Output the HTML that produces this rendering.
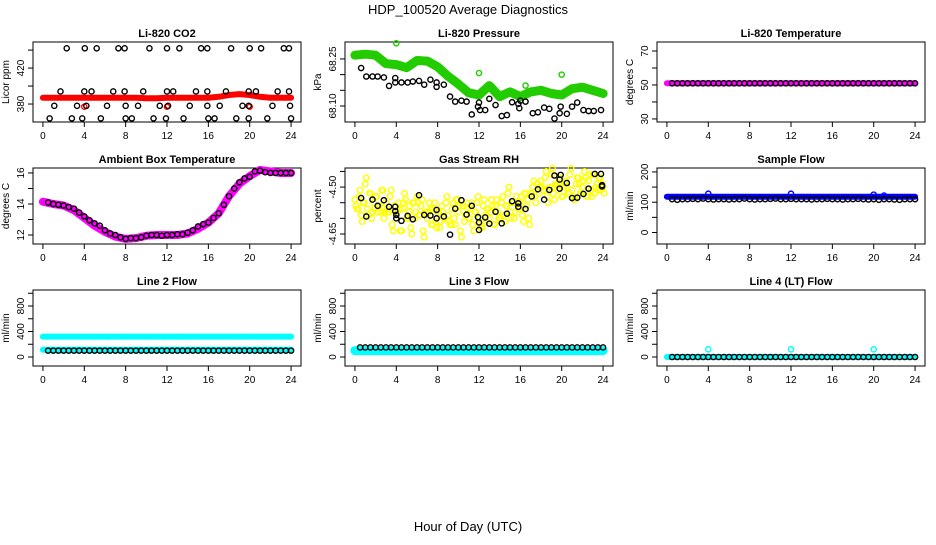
<!DOCTYPE html>
<html><head><meta charset="utf-8"><style>
body{margin:0;background:#fff;}
svg text{font-family:"Liberation Sans",Arial,sans-serif;}
</style></head><body>
<svg id="c" width="936" height="540" xmlns="http://www.w3.org/2000/svg">
<rect width="936" height="540" fill="#fff"/>
<text x="468" y="14" font-size="13" text-anchor="middle">HDP_100520  Average Diagnostics</text>
<text x="468" y="531" font-size="13" text-anchor="middle">Hour of Day (UTC)</text>
</svg>
<script>
// ---- data ----
const hours = [0,1,2,3,4,5,6,7,8,9,10,11,12,13,14,15,16,17,18,19,20,21,22,23,24];
const halfHours = [0.5,1,1.5,2,2.5,3,3.5,4,4.5,5,5.5,6,6.5,7,7.5,8,8.5,9,9.5,10,10.5,11,11.5,12,12.5,13,13.5,14,14.5,15,15.5,16,16.5,17,17.5,18,18.5,19,19.5,20,20.5,21,21.5,22,22.5,23,23.5,24];
const xTicks = [0,4,8,12,16,20,24];

const co2Red = [387,387,387,387,387,387,387,387,387,387,386.5,386.5,387,387,387,387,387,388,390,391,390,388,387,387,387];
const co2RedExtraT = [4,12,20];
const co2RedExtraV = [377,377,377];
const co2BlackT = [2.3,4.05,5.2,7.3,7.9,10.3,12,13.2,15.3,15.9,18.2,20,21.1,23.3,23.8, 1.7,4,4.7,6.8,7.9,9.7,12,12.6,14.8,15.9,17.7,19.9,20.6,22.7,23.8, 1.1,3.3,4.2,6.2,8,9.2,11.3,12.1,14.2,15.9,17.1,19.3,19.9,22.2,23.9, 0.65,2.8,3.8,5.6,8,8.6,10.7,11.9,13.6,16,16.6,18.7,19.9,21.7,24];
const co2BlackV = [442,442,442,442,442,442,442,442,442,442,442,442,442,442,442, 394,394,394,394,394,394,394,394,394,394,394,394,394,394,394, 378,378,378,378,378,378,378,378,378,378,378,378,378,378,378, 364,364,364,364,364,364,364,364,364,364,364,364,364,364,364];

const presGreen = [68.262,68.265,68.262,68.235,68.232,68.222,68.245,68.243,68.225,68.195,68.17,68.142,68.135,68.165,68.13,68.145,68.13,68.145,68.15,68.14,68.135,68.155,68.16,68.15,68.14];
const presGreenOutT = [4,12,20,16.5];
const presGreenOutV = [68.30,68.205,68.2,68.165];
const presBlackT = [0.6,1.1,1.7,2.2,2.8,3.3,3.9,3.9,4.5,5.1,5.6,6.2,6.7,7.3,7.9,7.9,8.6,9.2,9.7,10.3,10.8,11.3,11.9,12.0,12.1,12.6,13.0,13.6,14.2,14.7,15.2,15.8,15.9,16.0,16.5,17.2,17.7,18.3,18.8,19.3,19.8,19.9,20.5,21.0,21.5,22.1,22.6,23.1,23.8];
const presBlackV = [68.221,68.194,68.194,68.194,68.191,68.164,68.189,68.175,68.175,68.175,68.178,68.18,68.168,68.184,68.175,68.161,68.168,68.13,68.114,68.117,68.114,68.073,68.098,68.111,68.087,68.087,68.123,68.103,68.068,68.071,68.112,68.107,68.093,68.117,68.114,68.077,68.08,68.095,68.091,68.06,68.077,68.098,68.075,68.098,68.111,68.087,68.084,68.084,68.087];

const tempMag = [51,51,51,51,51,51,51,51,51,51,51,51,51,51,51,51,51,51,51,51,51,51,51,51,51];
const tempBlack = [51,51,51,51,51,51,51,51,51,51,51,51,51,51,51,51,51,51,51,51,51,51,51,51,51,51,51,51,51,51,51,51,51,51,51,51,51,51,51,51,51,51,51,51,51,51,51,51];

const ambMag = [14.15,14.0,13.9,13.6,13.1,12.6,12.2,11.9,11.75,11.8,11.95,12.0,12.0,12.0,12.1,12.4,12.8,13.4,14.5,15.3,15.8,16.2,16.1,16.0,16.0];
const ambBlack = [14.1,14.0,13.95,13.9,13.8,13.7,13.45,13.2,12.95,12.75,12.6,12.3,12.1,12.0,11.85,11.75,11.8,11.8,11.85,11.95,12.0,12.0,11.95,12.0,12.0,12.05,12.05,12.15,12.3,12.55,12.7,12.8,13.1,13.4,13.95,14.5,15.0,15.4,15.65,15.75,16.1,16.15,16.05,16.0,16.0,16.0,16.0,16.0];

const rhYellowT = [0,0.2,0.4,0.6,0.8,1,1.2,1.4,1.6,1.8,2,2.2,2.4,2.6,2.8,3,3.2,3.4,3.6,3.8,4,4.2,4.4,4.6,4.8,5,5.2,5.4,5.6,5.8,6,6.2,6.4,6.6,6.8,7,7.2,7.4,7.6,7.8,8,8.2,8.4,8.6,8.8,9,9.2,9.4,9.6,9.8,10,10.2,10.4,10.6,10.8,11,11.2,11.4,11.6,11.8,12,12.2,12.4,12.6,12.8,13,13.2,13.4,13.6,13.8,14,14.2,14.4,14.6,14.8,15,15.2,15.4,15.6,15.8,16,16.2,16.4,16.6,16.8,17,17.2,17.4,17.6,17.8,18,18.2,18.4,18.6,18.8,19,19.2,19.4,19.6,19.8,20,20.2,20.4,20.6,20.8,21,21.2,21.4,21.6,21.8,22,22.2,22.4,22.6,22.8,23,23.2,23.4,23.6,23.8,24];
const rhYellowV = [-4.54,-4.57,-4.53,-4.59,-4.55,-4.49,-4.57,-4.52,-4.6,-4.55,-4.53,-4.58,-4.56,-4.51,-4.6,-4.55,-4.58,-4.53,-4.62,-4.56,-4.6,-4.55,-4.64,-4.57,-4.52,-4.6,-4.58,-4.63,-4.55,-4.6,-4.53,-4.59,-4.56,-4.64,-4.58,-4.6,-4.55,-4.62,-4.57,-4.61,-4.58,-4.63,-4.56,-4.6,-4.55,-4.59,-4.62,-4.57,-4.6,-4.54,-4.58,-4.64,-4.56,-4.61,-4.55,-4.6,-4.57,-4.62,-4.58,-4.55,-4.6,-4.63,-4.56,-4.59,-4.57,-4.6,-4.54,-4.62,-4.56,-4.58,-4.6,-4.55,-4.59,-4.56,-4.52,-4.58,-4.55,-4.6,-4.53,-4.57,-4.55,-4.59,-4.52,-4.56,-4.6,-4.52,-4.5,-4.53,-4.49,-4.52,-4.48,-4.51,-4.47,-4.53,-4.5,-4.46,-4.52,-4.49,-4.51,-4.47,-4.53,-4.5,-4.48,-4.52,-4.46,-4.51,-4.54,-4.49,-4.47,-4.52,-4.5,-4.45,-4.53,-4.48,-4.51,-4.46,-4.52,-4.49,-4.47,-4.51,-4.5];
const rhBlackT = [0.6,1.1,1.7,2.2,2.8,3.3,3.9,3.9,4.0,4.0,4.5,5.1,5.6,6.2,6.7,7.3,7.9,7.9,8.6,9.2,9.7,10.3,10.8,11.3,11.9,12.0,12.0,12.6,13.0,13.6,14.2,14.7,15.2,15.8,15.8,16.5,17.1,17.7,18.3,18.8,19.3,19.8,19.8,19.9,20.5,21.0,21.5,22.1,22.6,23.2,23.8,23.9,23.9];
const rhBlackV = [-4.535,-4.594,-4.54,-4.56,-4.542,-4.563,-4.563,-4.577,-4.589,-4.6,-4.608,-4.592,-4.603,-4.526,-4.589,-4.591,-4.573,-4.6,-4.594,-4.652,-4.569,-4.542,-4.588,-4.56,-4.596,-4.613,-4.637,-4.597,-4.617,-4.579,-4.616,-4.585,-4.545,-4.552,-4.563,-4.57,-4.53,-4.507,-4.54,-4.509,-4.463,-4.505,-4.476,-4.461,-4.487,-4.535,-4.534,-4.522,-4.505,-4.458,-4.458,-4.494,-4.498];

const sfBlue = [118,118,118,118,118,118,118,118,118,118,118,118,118,118,118,118,118,118,118,118,118,118,118,118,118];
const sfBlueOutT = [4,12,20,21];
const sfBlueOutV = [128,128,125,122];
const sfBlack = [110,108,110,110,111,110,112,110,109,110,110,109,110,110,112,110,109,110,110,111,112,110,110,111,110,110,110,109,110,110,111,110,110,109,110,110,111,110,109,110,108,110,110,109,108,110,110,110];

const l2CyanHi = [320,320,320,320,320,320,320,320,320,320,320,320,320,320,320,320,320,320,320,320,320,320,320,320,320];
const l2CyanLo = [115,115,115,115,115,115,115,115,115,115,115,115,115,115,115,115,115,115,115,115,115,115,115,115,115];
const l2Black = [100,100,100,100,100,100,100,100,100,100,100,100,100,100,100,100,100,100,100,100,100,100,100,100,100,100,100,100,100,100,100,100,100,100,100,100,100,100,100,100,100,100,100,100,100,100,100,100];

const l3Cyan = [100,100,100,100,100,100,100,100,100,100,100,100,100,100,100,100,100,100,100,100,100,100,100,100,100];
const l3Black = [150,150,150,150,150,150,150,150,150,150,150,150,150,150,150,150,150,150,150,150,150,150,150,150,150,150,150,150,150,150,150,150,150,150,150,150,150,150,150,150,150,150,150,150,150,150,150,150];

const l4Cyan = [0,0,0,0,0,0,0,0,0,0,0,0,0,0,0,0,0,0,0,0,0,0,0,0,0];
const l4CyanOutT = [4,12,20];
const l4CyanOutV = [120,120,120];
const l4Black = [0,0,0,0,0,0,0,0,0,0,0,0,0,0,0,0,0,0,0,0,0,0,0,0,0,0,0,0,0,0,0,0,0,0,0,0,0,0,0,0,0,0,0,0,0,0,0,0];

// ---- drawing ----
const svg = document.getElementById('c');
const NS = 'http://www.w3.org/2000/svg';
function mk(tag, attrs, parent){
  const e = document.createElementNS(NS, tag);
  for (const k in attrs) e.setAttribute(k, attrs[k]);
  (parent||svg).appendChild(e);
  return e;
}
function panel(key, title, ylab, L, T, W, H, ymin, ymax, yticks, ylabels){
  const g = mk('g', {});
  
  
  const xr0 = -0.96, xr1 = 24.96;
  const sx = v => L + (v - xr0) / (xr1 - xr0) * W;
  const sy = v => T + H - (v - ymin) / (ymax - ymin) * H;
  const box = mk('rect', {x:L, y:T, width:W, height:H, fill:'none', stroke:'#000', 'stroke-width':1}, g);
  
  
  const t = mk('text', {x:L+W/2, y:T-5, 'font-size':11, 'font-weight':'bold', 'text-anchor':'middle'}, g);
  t.textContent = title;
  
  
  const yl = mk('text', {x:0, y:0, 'font-size':10, 'text-anchor':'middle', transform:`translate(${L-24},${T+H/2}) rotate(-90)`}, g);
  yl.textContent = ylab;
  
  
  xTicks.forEach(v => {
    mk('line', {x1:sx(v), x2:sx(v), y1:T+H, y2:T+H+5, stroke:'#000'}, g);
    const tl = mk('text', {x:sx(v), y:T+H+17, 'font-size':10, 'text-anchor':'middle'}, g);
    tl.textContent = v;
    
    
  });
  yticks.forEach(v => {
    mk('line', {x1:L-5, x2:L, y1:sy(v), y2:sy(v), stroke:'#000'}, g);
  });
  ylabels.forEach(v => {
    const tl = mk('text', {x:0, y:0, 'font-size':10, 'text-anchor':'middle', transform:`translate(${L-9},${sy(v)}) rotate(-90)`}, g);
    tl.textContent = String(v.label);
    
    
  });
  return {g, sx, sy};
}
function band(p, key, ts, vs, color, w){
  const pts = ts.map((t,i) => p.sx(t).toFixed(1) + ',' + p.sy(vs[i]).toFixed(1)).join(' ');
  const pl = mk('polyline', {points:pts, fill:'none', stroke:color, 'stroke-width':w, 'stroke-linecap':'round', 'stroke-linejoin':'round'}, p.g);
  
  
}
function dots(p, key, ts, vs, color, r){
  ts.forEach((t,i) => {
    const c = mk('circle', {cx:p.sx(t), cy:p.sy(vs[i]), r:r||2.6, fill:'none', stroke:color, 'stroke-width':1.4}, p.g);
    
    
  });
}
function lab(vals, labs){ return labs.map(v => ({value:v, label:v})); }
function ticksL(arr){ return arr.map(v => ({label:v, toString(){return v;}})); }

// col lefts & row tops
const C = [33, 345, 657], W = 268, R = [42, 168, 290], RH = [80, 76, 76];

function yl(p, vals){ return vals; }

// Panel 1: CO2
let p = panel('co2', 'Li-820 CO2', 'Licor ppm', C[0], R[0], W, RH[0], 360, 449, [380,400,420,440], []);
[[380,'380'],[420,'420']].forEach(a => { const tl = mk('text',{x:0,y:0,'font-size':10,'text-anchor':'middle',transform:`translate(${C[0]-9},${p.sy(a[0])}) rotate(-90)`},p.g); tl.textContent=a[1];   });
band(p, 'co2-red-series', hours, co2Red, '#ff0000', 6);
dots(p, 'co2-red-outlier', co2RedExtraT, co2RedExtraV, '#ff0000');
dots(p, 'co2-black-point', co2BlackT, co2BlackV, '#000');

// Panel 2: Pressure
p = panel('pressure', 'Li-820 Pressure', 'kPa', C[1], R[0], W, RH[0], 68.049, 68.304, [68.10,68.15,68.20,68.25], []);
[[68.10,'68.10'],[68.25,'68.25']].forEach(a => { const tl = mk('text',{x:0,y:0,'font-size':10,'text-anchor':'middle',transform:`translate(${C[1]-9},${p.sy(a[0])}) rotate(-90)`},p.g); tl.textContent=a[1];   });
band(p, 'pressure-green-series', hours, presGreen, '#22cc00', 9);
dots(p, 'pressure-green-outlier', presGreenOutT, presGreenOutV, '#22cc00');
dots(p, 'pressure-black-point', presBlackT, presBlackV, '#000');

// Panel 3: Temperature
p = panel('li820-temp', 'Li-820 Temperature', 'degrees C', C[2], R[0], W, RH[0], 28.2, 75.3, [30,40,50,60,70], []);
[[30,'30'],[50,'50'],[70,'70']].forEach(a => { const tl = mk('text',{x:0,y:0,'font-size':10,'text-anchor':'middle',transform:`translate(${C[2]-9},${p.sy(a[0])}) rotate(-90)`},p.g); tl.textContent=a[1];   });
band(p, 'li820-temp-magenta-series', hours, tempMag, '#ff00ff', 6);
dots(p, 'li820-temp-black-point', halfHours, tempBlack, '#000');

// Panel 4: Ambient
p = panel('ambient', 'Ambient Box Temperature', 'degrees C', C[0], R[1], W, RH[1], 11.42, 16.32, [12,13,14,15,16], []);
[[12,'12'],[14,'14'],[16,'16']].forEach(a => { const tl = mk('text',{x:0,y:0,'font-size':10,'text-anchor':'middle',transform:`translate(${C[0]-9},${p.sy(a[0])}) rotate(-90)`},p.g); tl.textContent=a[1];   });
band(p, 'ambient-magenta-series', hours, ambMag, '#ff00ff', 8);
dots(p, 'ambient-black-point', halfHours, ambBlack, '#000');

// Panel 5: RH
p = panel('rh', 'Gas Stream RH', 'percent', C[1], R[1], W, RH[1], -4.682, -4.439, [-4.65,-4.60,-4.55,-4.50,-4.45], []);
[[-4.65,'-4.65'],[-4.50,'-4.50']].forEach(a => { const tl = mk('text',{x:0,y:0,'font-size':10,'text-anchor':'middle',transform:`translate(${C[1]-9},${p.sy(a[0])}) rotate(-90)`},p.g); tl.textContent=a[1];   });
dots(p, 'rh-yellow-point', rhYellowT, rhYellowV, '#ffff00', 2.8);
dots(p, 'rh-yellow-point', rhYellowT.map(t=>t+0.1), rhYellowV.map((v,i)=>rhYellowV[(i+7)%rhYellowV.length]*0+v+((i%3)-1)*0.02), '#ffff00', 2.8);
dots(p, 'rh-black-point', rhBlackT, rhBlackV, '#000');

// Panel 6: Sample flow
p = panel('sample-flow', 'Sample Flow', 'ml/min', C[2], R[1], W, RH[1], -38, 213, [0,50,100,150,200], []);
[[0,'0'],[100,'100'],[200,'200']].forEach(a => { const tl = mk('text',{x:0,y:0,'font-size':10,'text-anchor':'middle',transform:`translate(${C[2]-9},${p.sy(a[0])}) rotate(-90)`},p.g); tl.textContent=a[1];   });
band(p, 'sample-flow-blue-series', hours, sfBlue, '#0000ff', 6);
dots(p, 'sample-flow-blue-outlier', sfBlueOutT, sfBlueOutV, '#0000ff');
dots(p, 'sample-flow-black-point', halfHours, sfBlack, '#000');

// Row 3
const flowTicks = [0,200,400,600,800,1000];
[['line2','Line 2 Flow',0],['line3','Line 3 Flow',1],['line4','Line 4 (LT) Flow',2]].forEach(cfg => {
  const q = panel(cfg[0], cfg[1], 'ml/min', C[cfg[2]], R[2], W, RH[2], -141, 1051, flowTicks, []);
  [[0,'0'],[400,'400'],[800,'800']].forEach(a => { const tl = mk('text',{x:0,y:0,'font-size':10,'text-anchor':'middle',transform:`translate(${C[cfg[2]]-9},${q.sy(a[0])}) rotate(-90)`},q.g); tl.textContent=a[1];   });
  if (cfg[0]==='line2'){
    band(q, 'line2-cyan-high-series', hours, l2CyanHi, '#00ffff', 6);
    band(q, 'line2-cyan-low-series', hours, l2CyanLo, '#00ffff', 6);
    dots(q, 'line2-black-point', halfHours, l2Black, '#000');
  } else if (cfg[0]==='line3'){
    band(q, 'line3-cyan-series', hours, l3Cyan, '#00ffff', 9);
    dots(q, 'line3-black-point', halfHours, l3Black, '#000');
  } else {
    band(q, 'line4-cyan-series', hours, l4Cyan, '#00ffff', 6);
    dots(q, 'line4-cyan-outlier', l4CyanOutT, l4CyanOutV, '#00ffff');
    dots(q, 'line4-black-point', halfHours, l4Black, '#000');
  }
});
</script>
</body></html>
